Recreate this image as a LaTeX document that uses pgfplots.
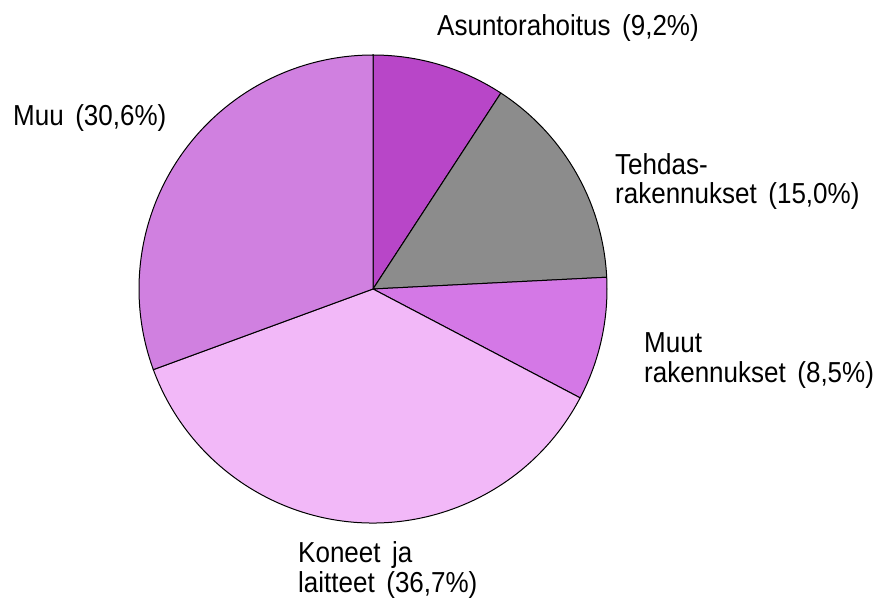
\documentclass[border=0pt]{standalone}
\usepackage{pgfplots}
\pgfplotsset{compat=1.18}
\usepackage{fontspec}
\setmainfont{Liberation Sans}
\newfontfamily\labfont[FakeStretch=0.9]{Liberation Sans}
\definecolor{cA}{RGB}{184,70,200}
\definecolor{cB}{RGB}{140,140,140}
\definecolor{cC}{RGB}{212,120,230}
\definecolor{cD}{RGB}{242,184,248}
\definecolor{cE}{RGB}{208,128,224}
\begin{document}
\begin{tikzpicture}
% shares in percent (clockwise from the top)
\def\vA{9.2}\def\vB{15.0}\def\vC{8.5}\def\vD{36.7}\def\vE{30.6}
\pgfmathsetmacro\aA{90}
\pgfmathsetmacro\aB{\aA-3.6*\vA}
\pgfmathsetmacro\aC{\aB-3.6*\vB}
\pgfmathsetmacro\aD{\aC-3.6*\vC}
\pgfmathsetmacro\aE{\aD-3.6*\vD}
\pgfmathsetmacro\aF{\aE-3.6*\vE}
\begin{axis}[scale only axis, width=880bp, height=598bp,
  xmin=0, xmax=880, ymin=0, ymax=598, hide axis, clip=false]
\path (axis cs:0,0) rectangle (axis cs:880,598);
\filldraw[fill=cA, draw=black, line width=1bp] (axis cs:373,309) -- ++(\aA:234bp) arc[start angle=\aA, end angle=\aB, radius=234bp] -- cycle;
\filldraw[fill=cB, draw=black, line width=1bp] (axis cs:373,309) -- ++(\aB:234bp) arc[start angle=\aB, end angle=\aC, radius=234bp] -- cycle;
\filldraw[fill=cC, draw=black, line width=1bp] (axis cs:373,309) -- ++(\aC:234bp) arc[start angle=\aC, end angle=\aD, radius=234bp] -- cycle;
\filldraw[fill=cD, draw=black, line width=1bp] (axis cs:373,309) -- ++(\aD:234bp) arc[start angle=\aD, end angle=\aE, radius=234bp] -- cycle;
\filldraw[fill=cE, draw=black, line width=1bp] (axis cs:373,309) -- ++(\aE:234bp) arc[start angle=\aE, end angle=\aF, radius=234bp] -- cycle;
\tikzset{lab/.style={anchor=base west, inner sep=0pt, font=\labfont\fontsize{29}{30}\selectfont}}
\node[lab] at (axis cs:437,562) {Asuntorahoitus\hspace{0.4em}(9,2\%)};
\node[lab] at (axis cs:13,472) {Muu\hspace{0.4em}(30,6\%)};
\node[lab] at (axis cs:615,423) {Tehdas-};
\node[lab] at (axis cs:615,394) {rakennukset\hspace{0.4em}(15,0\%)};
\node[lab] at (axis cs:644,246) {Muut};
\node[lab] at (axis cs:644,216) {rakennukset\hspace{0.4em}(8,5\%)};
\node[lab] at (axis cs:298,36) {Koneet\hspace{0.4em}ja};
\node[lab] at (axis cs:298,6) {laitteet\hspace{0.4em}(36,7\%)};
\end{axis}
\end{tikzpicture}
\end{document}
